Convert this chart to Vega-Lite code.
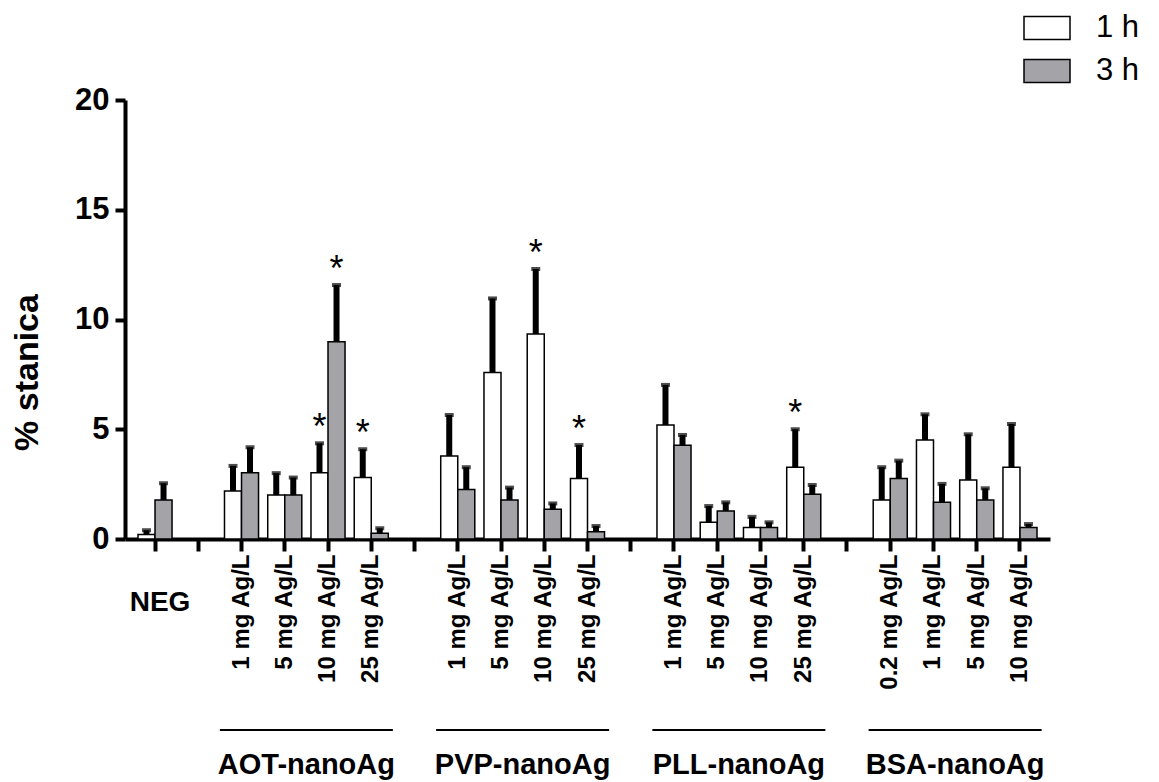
{
  "$schema": "https://vega.github.io/schema/vega-lite/v6.json",
  "width": 925,
  "height": 439,
  "autosize": {"type": "none"},
  "padding": {"left": 125, "top": 100, "right": 109, "bottom": 243},
  "background": "white",
  "config": {"view": {"stroke": null}, "font": "Liberation Sans"},
  "datasets": {
    "main": [
      {"cat": "NEG", "time": "1 h", "value": 0.2, "upper": 0.4, "sig": ""},
      {"cat": "NEG", "time": "3 h", "value": 1.78, "upper": 2.54, "sig": ""},
      {"cat": "AOT|1 mg Ag/L", "time": "1 h", "value": 2.19, "upper": 3.33, "sig": ""},
      {"cat": "AOT|1 mg Ag/L", "time": "3 h", "value": 3.02, "upper": 4.18, "sig": ""},
      {"cat": "AOT|5 mg Ag/L", "time": "1 h", "value": 2.0, "upper": 3.0, "sig": ""},
      {"cat": "AOT|5 mg Ag/L", "time": "3 h", "value": 2.0, "upper": 2.8, "sig": ""},
      {"cat": "AOT|10 mg Ag/L", "time": "1 h", "value": 3.02, "upper": 4.36, "sig": "*"},
      {"cat": "AOT|10 mg Ag/L", "time": "3 h", "value": 8.99, "upper": 11.57, "sig": "*"},
      {"cat": "AOT|25 mg Ag/L", "time": "1 h", "value": 2.8, "upper": 4.09, "sig": "*"},
      {"cat": "AOT|25 mg Ag/L", "time": "3 h", "value": 0.26, "upper": 0.49, "sig": ""},
      {"cat": "PVP|1 mg Ag/L", "time": "1 h", "value": 3.78, "upper": 5.65, "sig": ""},
      {"cat": "PVP|1 mg Ag/L", "time": "3 h", "value": 2.26, "upper": 3.27, "sig": ""},
      {"cat": "PVP|5 mg Ag/L", "time": "1 h", "value": 7.58, "upper": 10.96, "sig": ""},
      {"cat": "PVP|5 mg Ag/L", "time": "3 h", "value": 1.78, "upper": 2.34, "sig": ""},
      {"cat": "PVP|10 mg Ag/L", "time": "1 h", "value": 9.34, "upper": 12.3, "sig": "*"},
      {"cat": "PVP|10 mg Ag/L", "time": "3 h", "value": 1.35, "upper": 1.62, "sig": ""},
      {"cat": "PVP|25 mg Ag/L", "time": "1 h", "value": 2.76, "upper": 4.28, "sig": "*"},
      {"cat": "PVP|25 mg Ag/L", "time": "3 h", "value": 0.33, "upper": 0.59, "sig": ""},
      {"cat": "PLL|1 mg Ag/L", "time": "1 h", "value": 5.19, "upper": 7.02, "sig": ""},
      {"cat": "PLL|1 mg Ag/L", "time": "3 h", "value": 4.27, "upper": 4.74, "sig": ""},
      {"cat": "PLL|5 mg Ag/L", "time": "1 h", "value": 0.76, "upper": 1.5, "sig": ""},
      {"cat": "PLL|5 mg Ag/L", "time": "3 h", "value": 1.28, "upper": 1.67, "sig": ""},
      {"cat": "PLL|10 mg Ag/L", "time": "1 h", "value": 0.52, "upper": 1.01, "sig": ""},
      {"cat": "PLL|10 mg Ag/L", "time": "3 h", "value": 0.52, "upper": 0.76, "sig": ""},
      {"cat": "PLL|25 mg Ag/L", "time": "1 h", "value": 3.27, "upper": 5.0, "sig": "*"},
      {"cat": "PLL|25 mg Ag/L", "time": "3 h", "value": 2.04, "upper": 2.46, "sig": ""},
      {"cat": "BSA|0.2 mg Ag/L", "time": "1 h", "value": 1.78, "upper": 3.27, "sig": ""},
      {"cat": "BSA|0.2 mg Ag/L", "time": "3 h", "value": 2.76, "upper": 3.57, "sig": ""},
      {"cat": "BSA|1 mg Ag/L", "time": "1 h", "value": 4.51, "upper": 5.68, "sig": ""},
      {"cat": "BSA|1 mg Ag/L", "time": "3 h", "value": 1.67, "upper": 2.51, "sig": ""},
      {"cat": "BSA|5 mg Ag/L", "time": "1 h", "value": 2.69, "upper": 4.77, "sig": ""},
      {"cat": "BSA|5 mg Ag/L", "time": "3 h", "value": 1.78, "upper": 2.31, "sig": ""},
      {"cat": "BSA|10 mg Ag/L", "time": "1 h", "value": 3.27, "upper": 5.24, "sig": ""},
      {"cat": "BSA|10 mg Ag/L", "time": "3 h", "value": 0.52, "upper": 0.68, "sig": ""}
    ],
    "groups": [
      {"name": "AOT-nanoAg", "first": "AOT|1 mg Ag/L", "mid": "AOT|5 mg Ag/L", "last": "AOT|25 mg Ag/L"},
      {"name": "PVP-nanoAg", "first": "PVP|1 mg Ag/L", "mid": "PVP|5 mg Ag/L", "last": "PVP|25 mg Ag/L"},
      {"name": "PLL-nanoAg", "first": "PLL|1 mg Ag/L", "mid": "PLL|5 mg Ag/L", "last": "PLL|25 mg Ag/L"},
      {"name": "BSA-nanoAg", "first": "BSA|0.2 mg Ag/L", "mid": "BSA|1 mg Ag/L", "last": "BSA|10 mg Ag/L"}
    ],
    "neg": [{"cat": "NEG", "label": "NEG"}]
  },
  "layer": [
    {
      "data": {"name": "main"},
      "mark": {"type": "bar", "stroke": "black", "strokeWidth": 1.5},
      "encoding": {
        "x": {
          "field": "cat", "type": "nominal", "sort": null,
          "scale": {
            "domain": ["NEG", "gap1", "AOT|1 mg Ag/L", "AOT|5 mg Ag/L", "AOT|10 mg Ag/L", "AOT|25 mg Ag/L", "gap2", "PVP|1 mg Ag/L", "PVP|5 mg Ag/L", "PVP|10 mg Ag/L", "PVP|25 mg Ag/L", "gap3", "PLL|1 mg Ag/L", "PLL|5 mg Ag/L", "PLL|10 mg Ag/L", "PLL|25 mg Ag/L", "gap4", "BSA|0.2 mg Ag/L", "BSA|1 mg Ag/L", "BSA|5 mg Ag/L", "BSA|10 mg Ag/L"],
            "paddingInner": 0, "paddingOuter": 0.194
          },
          "axis": {
            "title": null,
            "labelExpr": "indexof(datum.value,'|')>=0 ? substring(datum.value, indexof(datum.value,'|')+1) : ''",
            "labelAngle": -90, "labelFontSize": 24, "labelFontWeight": "bold", "labelColor": "black",
            "labelPadding": 3, "labelOverlap": false, "grid": false,
            "domainWidth": 4, "domainColor": "black", "tickWidth": 4, "tickColor": "black", "tickSize": 12
          }
        },
        "xOffset": {"field": "time", "type": "nominal", "scale": {"paddingInner": 0, "paddingOuter": 0.27}},
        "y": {
          "field": "value", "type": "quantitative",
          "scale": {"domain": [0, 20], "nice": false},
          "axis": {
            "title": "% stanica", "values": [0, 5, 10, 15, 20], "grid": false,
            "labelFontSize": 31, "labelFontWeight": "bold", "labelColor": "black", "labelPadding": 6,
            "domainWidth": 4, "domainColor": "black", "tickWidth": 4, "tickColor": "black", "tickSize": 10,
            "titleFontSize": 34, "titleFontWeight": "bold", "titleColor": "black",
            "titleX": -98, "titleY": 272, "titleAngle": -90, "titleAlign": "center", "titleBaseline": "middle"
          }
        },
        "fill": {
          "field": "time", "type": "nominal",
          "scale": {"domain": ["1 h", "3 h"], "range": ["white", "#a3a3a8"]},
          "legend": {
            "title": null, "orient": "none", "legendX": 898, "legendY": -96,
            "symbolType": "M-1,-0.5H1V0.5H-1Z", "symbolSize": 2116,
            "symbolStrokeColor": "black", "symbolStrokeWidth": 1.5,
            "labelFontSize": 31, "labelColor": "black", "labelOffset": 25, "rowPadding": 4
          }
        }
      }
    },
    {
      "data": {"name": "main"},
      "mark": {"type": "rule", "color": "black", "strokeWidth": 6},
      "encoding": {
        "x": {"field": "cat", "type": "nominal", "sort": null},
        "xOffset": {"field": "time", "type": "nominal"},
        "y": {"field": "value", "type": "quantitative"},
        "y2": {"field": "upper"}
      }
    },
    {
      "data": {"name": "main"},
      "mark": {"type": "tick", "color": "black", "thickness": 4, "size": 9, "orient": "horizontal"},
      "encoding": {
        "x": {"field": "cat", "type": "nominal", "sort": null},
        "xOffset": {"field": "time", "type": "nominal"},
        "y": {"field": "upper", "type": "quantitative"}
      }
    },
    {
      "data": {"name": "main"},
      "transform": [{"filter": "datum.sig != ''"}],
      "mark": {"type": "text", "fontSize": 36, "baseline": "alphabetic", "dy": -4, "color": "black"},
      "encoding": {
        "x": {"field": "cat", "type": "nominal", "sort": null},
        "xOffset": {"field": "time", "type": "nominal"},
        "y": {"field": "upper", "type": "quantitative"},
        "text": {"field": "sig"}
      }
    },
    {
      "data": {"name": "neg"},
      "mark": {"type": "text", "fontSize": 28, "fontWeight": "bold", "baseline": "middle", "dx": 5, "color": "black"},
      "encoding": {
        "x": {"field": "cat", "type": "nominal", "sort": null},
        "y": {"datum": -2.9, "type": "quantitative"},
        "text": {"field": "label"}
      }
    },
    {
      "data": {"name": "groups"},
      "mark": {"type": "rule", "color": "black", "strokeWidth": 2},
      "encoding": {
        "x": {"field": "first", "type": "nominal", "bandPosition": 0},
        "x2": {"field": "last", "bandPosition": 1},
        "y": {"datum": -8.7, "type": "quantitative"}
      }
    },
    {
      "data": {"name": "groups"},
      "mark": {"type": "text", "fontSize": 29, "fontWeight": "bold", "baseline": "middle", "color": "black"},
      "encoding": {
        "x": {"field": "mid", "type": "nominal", "bandPosition": 1},
        "y": {"datum": -10.3, "type": "quantitative"},
        "text": {"field": "name"}
      }
    }
  ]
}
